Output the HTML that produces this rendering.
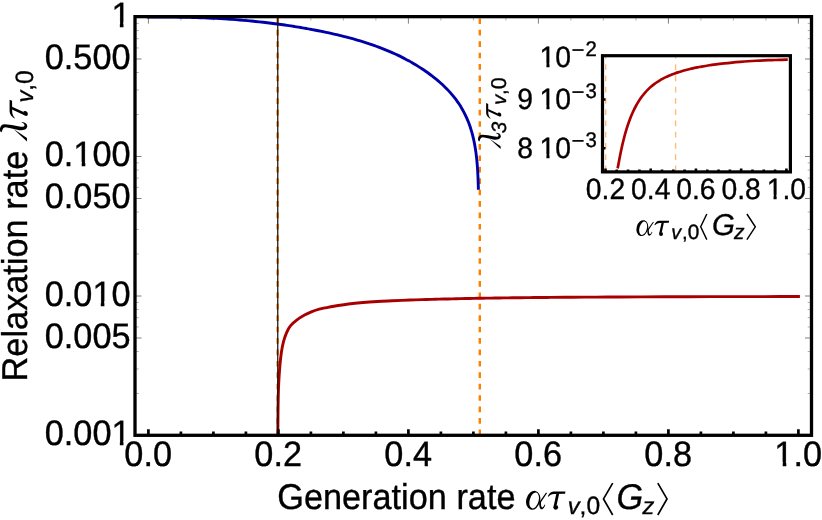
<!DOCTYPE html>
<html><head><meta charset="utf-8"><title>Relaxation rate plot</title>
<style>html,body{margin:0;padding:0;background:#fff;overflow:hidden}svg{display:block;will-change:transform;text-rendering:geometricPrecision}text{font-family:"Liberation Sans",sans-serif;fill:#000;stroke:#000;stroke-width:0.35px}.si{font-family:"Liberation Sans",sans-serif;font-style:italic}</style></head><body>
<svg width="822" height="520" viewBox="0 0 822 520">
<rect x="0" y="0" width="822" height="520" fill="#fff"/>
<path d="M135.00 17.00 h6.50 M811.50 17.00 h-6.50 M135.00 156.50 h6.50 M811.50 156.50 h-6.50 M135.00 58.99 h6.50 M811.50 58.99 h-6.50 M135.00 296.00 h6.50 M811.50 296.00 h-6.50 M135.00 198.49 h6.50 M811.50 198.49 h-6.50 M135.00 435.50 h6.50 M811.50 435.50 h-6.50 M135.00 337.99 h6.50 M811.50 337.99 h-6.50 M148.40 16.65 v7.00 M278.40 16.65 v7.00 M408.40 16.65 v7.00 M538.40 16.65 v7.00 M668.40 16.65 v7.00 M798.40 16.65 v7.00" fill="none" stroke="#555" stroke-width="0.75"/>
<path d="M135.00 114.51 h3.80 M811.50 114.51 h-3.80 M135.00 89.94 h3.80 M811.50 89.94 h-3.80 M135.00 72.51 h3.80 M811.50 72.51 h-3.80 M135.00 47.95 h3.80 M811.50 47.95 h-3.80 M135.00 38.61 h3.80 M811.50 38.61 h-3.80 M135.00 30.52 h3.80 M811.50 30.52 h-3.80 M135.00 23.38 h3.80 M811.50 23.38 h-3.80 M135.00 254.01 h3.80 M811.50 254.01 h-3.80 M135.00 229.44 h3.80 M811.50 229.44 h-3.80 M135.00 212.01 h3.80 M811.50 212.01 h-3.80 M135.00 187.45 h3.80 M811.50 187.45 h-3.80 M135.00 178.11 h3.80 M811.50 178.11 h-3.80 M135.00 170.02 h3.80 M811.50 170.02 h-3.80 M135.00 162.88 h3.80 M811.50 162.88 h-3.80 M135.00 393.51 h3.80 M811.50 393.51 h-3.80 M135.00 368.94 h3.80 M811.50 368.94 h-3.80 M135.00 351.51 h3.80 M811.50 351.51 h-3.80 M135.00 326.95 h3.80 M811.50 326.95 h-3.80 M135.00 317.61 h3.80 M811.50 317.61 h-3.80 M135.00 309.52 h3.80 M811.50 309.52 h-3.80 M135.00 302.38 h3.80 M811.50 302.38 h-3.80 M180.90 16.65 v3.90 M213.40 16.65 v3.90 M245.90 16.65 v3.90 M310.90 16.65 v3.90 M343.40 16.65 v3.90 M375.90 16.65 v3.90 M440.90 16.65 v3.90 M473.40 16.65 v3.90 M505.90 16.65 v3.90 M570.90 16.65 v3.90 M603.40 16.65 v3.90 M635.90 16.65 v3.90 M700.90 16.65 v3.90 M733.40 16.65 v3.90 M765.90 16.65 v3.90" fill="none" stroke="#888" stroke-width="0.65"/>
<line x1="277.6" y1="18.4" x2="277.6" y2="435.30" stroke="#ff8000" stroke-width="2.4" stroke-dasharray="5.7 5.717"/>
<line x1="479.8" y1="18.4" x2="479.8" y2="435.30" stroke="#ff8000" stroke-width="2.4" stroke-dasharray="5.7 5.717"/>
<path d="M148.40 17.00 C149.05 17.02 150.99 17.09 152.31 17.10 C153.63 17.11 154.99 17.08 156.33 17.07 C157.67 17.06 159.00 17.06 160.34 17.05 C161.68 17.05 163.02 17.05 164.35 17.05 C165.69 17.05 167.02 17.05 168.36 17.06 C169.69 17.07 171.02 17.07 172.36 17.09 C173.69 17.10 175.02 17.11 176.35 17.12 C177.68 17.14 179.01 17.16 180.34 17.18 C181.67 17.20 183.00 17.22 184.33 17.25 C185.66 17.27 186.99 17.30 188.31 17.33 C189.64 17.37 190.96 17.40 192.29 17.44 C193.62 17.47 194.94 17.51 196.26 17.55 C197.59 17.59 198.91 17.64 200.23 17.69 C201.56 17.73 202.88 17.78 204.20 17.84 C205.52 17.89 206.84 17.94 208.16 18.00 C209.48 18.06 210.80 18.12 212.12 18.19 C213.44 18.25 214.76 18.32 216.08 18.39 C217.40 18.46 218.72 18.53 220.03 18.61 C221.35 18.69 222.67 18.77 223.98 18.85 C225.30 18.93 226.62 19.02 227.93 19.10 C229.25 19.19 230.56 19.28 231.88 19.38 C233.19 19.47 234.50 19.57 235.82 19.67 C237.13 19.77 238.45 19.88 239.76 19.99 C241.07 20.09 242.38 20.21 243.70 20.32 C245.01 20.43 246.32 20.55 247.63 20.67 C248.94 20.79 250.26 20.92 251.57 21.05 C252.88 21.17 254.19 21.30 255.50 21.44 C256.81 21.57 258.12 21.71 259.43 21.85 C260.74 21.99 262.05 22.14 263.36 22.29 C264.67 22.44 265.98 22.59 267.29 22.74 C268.60 22.90 269.90 23.06 271.21 23.22 C272.52 23.38 273.83 23.55 275.14 23.72 C276.45 23.89 277.76 24.06 279.06 24.24 C280.37 24.42 281.68 24.60 282.99 24.79 C284.30 24.97 285.60 25.16 286.91 25.35 C288.22 25.55 289.53 25.74 290.83 25.94 C292.14 26.14 293.45 26.35 294.76 26.56 C296.06 26.76 297.37 26.98 298.68 27.19 C299.99 27.41 301.29 27.63 302.60 27.85 C303.91 28.08 305.22 28.30 306.53 28.54 C307.83 28.77 309.14 29.00 310.45 29.25 C311.76 29.49 313.06 29.73 314.37 29.98 C315.68 30.23 316.99 30.48 318.30 30.74 C319.60 30.99 320.91 31.26 322.22 31.52 C323.53 31.79 324.83 32.06 326.14 32.34 C327.45 32.61 328.75 32.89 330.06 33.18 C331.36 33.47 332.67 33.76 333.97 34.05 C335.27 34.35 336.57 34.65 337.88 34.96 C339.18 35.27 340.47 35.58 341.77 35.91 C343.07 36.23 344.36 36.55 345.66 36.89 C346.95 37.22 348.24 37.56 349.53 37.90 C350.82 38.25 352.11 38.60 353.40 38.96 C354.68 39.32 355.96 39.69 357.24 40.06 C358.52 40.44 359.80 40.82 361.08 41.21 C362.35 41.60 363.62 41.99 364.89 42.40 C366.16 42.80 367.42 43.21 368.69 43.63 C369.95 44.05 371.21 44.48 372.46 44.92 C373.72 45.36 374.97 45.80 376.21 46.26 C377.46 46.71 378.70 47.17 379.94 47.64 C381.18 48.12 382.42 48.60 383.65 49.09 C384.88 49.58 386.10 50.08 387.32 50.58 C388.54 51.09 389.76 51.61 390.97 52.14 C392.18 52.67 393.39 53.21 394.59 53.75 C395.79 54.30 396.99 54.86 398.18 55.43 C399.37 56.00 400.55 56.58 401.73 57.17 C402.91 57.76 404.09 58.36 405.25 58.97 C406.42 59.58 407.58 60.20 408.74 60.83 C409.89 61.47 411.04 62.11 412.19 62.77 C413.33 63.43 414.47 64.09 415.59 64.77 C416.72 65.45 417.85 66.14 418.96 66.85 C420.08 67.55 421.19 68.27 422.29 69.00 C423.39 69.73 424.48 70.47 425.57 71.22 C426.66 71.97 427.74 72.74 428.81 73.52 C429.88 74.30 430.94 75.09 431.99 75.89 C433.05 76.70 434.09 77.52 435.12 78.35 C436.15 79.18 437.18 80.03 438.18 80.89 C439.19 81.75 440.19 82.62 441.17 83.51 C442.15 84.39 443.12 85.29 444.08 86.21 C445.03 87.13 445.97 88.06 446.89 89.00 C447.81 89.94 448.71 90.90 449.60 91.88 C450.48 92.85 451.35 93.84 452.20 94.84 C453.05 95.85 453.88 96.87 454.69 97.90 C455.50 98.93 456.29 99.98 457.05 101.05 C457.82 102.12 458.56 103.20 459.28 104.29 C460.00 105.39 460.69 106.50 461.37 107.63 C462.04 108.76 462.69 109.90 463.31 111.06 C463.93 112.22 464.53 113.39 465.11 114.58 C465.69 115.76 466.24 116.96 466.77 118.17 C467.31 119.38 467.81 120.60 468.30 121.83 C468.79 123.07 469.25 124.31 469.69 125.56 C470.13 126.81 470.55 128.08 470.95 129.34 C471.35 130.61 471.72 131.89 472.07 133.18 C472.43 134.46 472.76 135.76 473.08 137.05 C473.39 138.35 473.68 139.66 473.96 140.97 C474.24 142.27 474.49 143.59 474.73 144.91 C474.97 146.22 475.20 147.55 475.40 148.87 C475.61 150.20 475.80 151.52 475.98 152.85 C476.16 154.18 476.32 155.51 476.48 156.84 C476.63 158.17 476.77 159.51 476.89 160.84 C477.02 162.17 477.14 163.50 477.24 164.83 C477.35 166.16 477.44 167.49 477.53 168.81 C477.62 170.14 477.70 171.46 477.77 172.78 C477.84 174.10 477.90 175.42 477.96 176.73 C478.02 178.04 478.07 179.34 478.12 180.64 C478.17 181.94 478.21 183.24 478.25 184.53 C478.30 185.81 478.35 187.73 478.37 188.37" fill="none" stroke="#0000a8" stroke-width="2.9" stroke-linecap="square" stroke-linejoin="round"/>
<path d="M277.80 435.00 C277.81 434.38 277.80 436.40 277.85 431.30 C277.90 426.20 277.96 412.37 278.10 404.40 C278.24 396.43 278.40 389.97 278.70 383.50 C279.00 377.03 279.45 370.82 279.90 365.60 C280.35 360.38 280.80 356.18 281.40 352.20 C282.00 348.22 282.65 344.93 283.50 341.70 C284.35 338.47 285.35 335.43 286.50 332.80 C287.65 330.17 288.60 328.08 290.40 325.90 C292.20 323.72 294.93 321.50 297.30 319.70 C299.67 317.90 302.17 316.43 304.60 315.10 C307.03 313.77 309.47 312.68 311.90 311.70 C314.33 310.72 316.77 309.88 319.20 309.20 C321.63 308.52 324.07 308.10 326.50 307.60 C328.93 307.10 330.15 306.80 333.80 306.20 C337.45 305.60 343.53 304.62 348.40 304.00 C353.27 303.38 358.13 302.92 363.00 302.50 C367.87 302.08 372.73 301.78 377.60 301.50 C382.47 301.22 386.80 301.05 392.20 300.80 C397.60 300.55 404.34 300.21 410.00 300.00 C415.66 299.79 422.03 299.68 426.17 299.57 C430.30 299.45 431.92 299.38 434.79 299.29 C437.67 299.21 440.54 299.13 443.42 299.05 C446.29 298.98 449.17 298.91 452.04 298.84 C454.91 298.77 457.79 298.71 460.66 298.64 C463.54 298.58 466.41 298.53 469.29 298.47 C472.16 298.41 475.04 298.36 477.91 298.31 C480.79 298.26 483.66 298.21 486.54 298.17 C489.41 298.12 492.29 298.08 495.16 298.04 C498.04 297.99 500.91 297.95 503.79 297.92 C506.66 297.88 509.54 297.84 512.41 297.81 C515.29 297.77 518.16 297.74 521.04 297.70 C523.91 297.67 526.79 297.64 529.66 297.61 C532.54 297.58 535.41 297.55 538.29 297.52 C541.16 297.50 544.95 297.46 546.91 297.44 C548.87 297.43 545.71 297.45 550.07 297.42 C554.43 297.38 565.40 297.29 573.07 297.23 C580.74 297.18 588.40 297.13 596.07 297.08 C603.74 297.04 611.40 296.99 619.07 296.96 C626.73 296.92 634.40 296.88 642.07 296.85 C649.73 296.82 657.40 296.79 665.07 296.77 C672.73 296.74 680.40 296.72 688.06 296.70 C695.73 296.68 703.40 296.66 711.06 296.65 C718.73 296.63 726.39 296.62 734.06 296.61 C741.73 296.60 749.39 296.59 757.06 296.58 C764.73 296.58 773.16 296.57 780.06 296.57 C786.96 296.56 795.39 296.56 798.46 296.56" fill="none" stroke="#a80000" stroke-width="2.9" stroke-linecap="square" stroke-linejoin="round"/>
<line x1="277.75" y1="16.65" x2="277.75" y2="435.30" stroke="#151515" stroke-width="1.25"/>
<path d="M148.40 435.30 v-6.10 M180.90 435.30 v-3.70 M213.40 435.30 v-3.70 M245.90 435.30 v-3.70 M278.40 435.30 v-6.10 M310.90 435.30 v-3.70 M343.40 435.30 v-3.70 M375.90 435.30 v-3.70 M408.40 435.30 v-6.10 M440.90 435.30 v-3.70 M473.40 435.30 v-3.70 M505.90 435.30 v-3.70 M538.40 435.30 v-6.10 M570.90 435.30 v-3.70 M603.40 435.30 v-3.70 M635.90 435.30 v-3.70 M668.40 435.30 v-6.10 M700.90 435.30 v-3.70 M733.40 435.30 v-3.70 M765.90 435.30 v-3.70 M798.40 435.30 v-6.10" fill="none" stroke="#000" stroke-width="2.7"/>
<rect x="135.00" y="16.65" width="676.50" height="418.65" fill="none" stroke="#000" stroke-width="3.30"/>
<text transform="translate(130.60,26.70) scale(1,1.030)" font-size="34.30" text-anchor="end">1</text>
<rect x="112.19" y="22.36" width="7.66" height="5.94" fill="#fff"/>
<rect x="123.48" y="22.36" width="6.80" height="5.94" fill="#fff"/>
<text transform="translate(130.60,68.69) scale(1,1.030)" font-size="34.30" text-anchor="end">0.500</text>
<text transform="translate(130.60,166.20) scale(1,1.030)" font-size="34.30" text-anchor="end">0.100</text>
<rect x="74.04" y="161.86" width="7.66" height="5.94" fill="#fff"/>
<rect x="85.33" y="161.86" width="6.80" height="5.94" fill="#fff"/>
<text transform="translate(130.60,208.19) scale(1,1.030)" font-size="34.30" text-anchor="end">0.050</text>
<text transform="translate(130.60,305.70) scale(1,1.030)" font-size="34.30" text-anchor="end">0.010</text>
<rect x="93.12" y="301.36" width="7.66" height="5.94" fill="#fff"/>
<rect x="104.40" y="301.36" width="6.80" height="5.94" fill="#fff"/>
<text transform="translate(130.60,347.69) scale(1,1.030)" font-size="34.30" text-anchor="end">0.005</text>
<text transform="translate(130.60,445.20) scale(1,1.030)" font-size="34.30" text-anchor="end">0.001</text>
<rect x="112.19" y="440.86" width="7.66" height="5.94" fill="#fff"/>
<rect x="123.48" y="440.86" width="6.80" height="5.94" fill="#fff"/>
<text transform="translate(148.20,466.30) scale(1,1.030)" font-size="34.30" text-anchor="middle">0.0</text>
<text transform="translate(278.20,466.30) scale(1,1.030)" font-size="34.30" text-anchor="middle">0.2</text>
<text transform="translate(408.20,466.30) scale(1,1.030)" font-size="34.30" text-anchor="middle">0.4</text>
<text transform="translate(538.20,466.30) scale(1,1.030)" font-size="34.30" text-anchor="middle">0.6</text>
<text transform="translate(668.20,466.30) scale(1,1.030)" font-size="34.30" text-anchor="middle">0.8</text>
<text transform="translate(798.20,466.30) scale(1,1.030)" font-size="34.30" text-anchor="middle">1.0</text>
<rect x="775.03" y="461.96" width="7.66" height="5.94" fill="#fff"/>
<rect x="786.32" y="461.96" width="6.80" height="5.94" fill="#fff"/>
<text transform="translate(277.20,509.10) scale(1,1.045)" font-size="34.30">Generation rate</text>
<g transform="translate(522,509)"><g transform="scale(0.05385) translate(0,-427)"><path d="M84.4 231.9 A128 175 15 1 0 331.6 298.1 A128 175 15 1 0 84.4 231.9ZM146.8 246.8 A82 150 15 1 1 305.2 289.2 A82 150 15 1 1 146.8 246.8Z"/><path d="M447 120 L464 134 L352 300 L322 296Z"/><path d="M318 285 C316 360 325 433 362 433 C395 433 418 392 433 352 L420 345 C405 376 390 398 376 398 C356 398 350 340 354 285Z"/></g></g>
<g transform="translate(542,509)"><g transform="scale(0.05385) translate(0,-427)"><path d="M108 190 C130 140 160 103 215 100 L436 100 L428 146 L225 148 C175 150 145 170 120 198Z"/><path d="M266 146 L318 146 L274 350 L214 385Z"/><path d="M211 395 A44 44 0 1 0 299 395 A44 44 0 1 0 211 395Z"/></g></g>
<text x="567.80" y="514.30" font-size="23.80" class="si">v</text>
<text x="579.60" y="514.30" font-size="24.60">,</text>
<text transform="translate(586.40,514.30) scale(1,1.020)" font-size="24.60">0</text>
<path d="M612.7 483.1 L603.5 498.9 L612.7 515" fill="none" stroke="#000" stroke-width="1.7"/>
<text transform="translate(616.40,509.10) scale(1,1.040)" font-size="34.30" class="si">G</text>
<text x="642.40" y="514.30" font-size="23.80" class="si">z</text>
<path d="M657.8 483.1 L667 498.9 L657.8 515" fill="none" stroke="#000" stroke-width="1.7"/>
<g transform="translate(27.2,381.40) rotate(-90)">
<text transform="translate(0.00,0.00) scale(1,1.045)" font-size="34.30">Relaxation rate</text>
<g transform="translate(239.40,0)"><g><path d="M9.69 -25.85 C10.50 -28.20 17.90 -28.00 17.77 -22.38 L17.00 -15.46 L15.46 -7.77 C15.20 -5.50 15.20 -4.20 15.60 -3.30 C16.30 -2.00 18.60 -2.60 19.40 -5.60 L20.10 -5.40 C19.90 -1.20 17.50 0.30 15.30 -0.00 C12.60 -0.40 11.70 -3.50 11.85 -7.77 L13.54 -15.46 L14.69 -21.60 C14.60 -24.60 11.50 -24.80 10.40 -25.30Z"/><path d="M14.90 -16.60 L13.50 -14.20 L0.46 -0.23 L3.90 -0.23Z"/></g></g>
<g transform="translate(253.80,0)"><g transform="matrix(1 0 -0.250 1 0 0) scale(0.05385) translate(0,-427)"><path d="M108 190 C130 140 160 103 215 100 L436 100 L428 146 L225 148 C175 150 145 170 120 198Z"/><path d="M266 146 L318 146 L274 350 L214 385Z"/><path d="M211 395 A44 44 0 1 0 299 395 A44 44 0 1 0 211 395Z"/></g></g>
<text x="278.80" y="5.80" font-size="23.80" class="si">v</text>
<text x="290.60" y="5.80" font-size="24.60">,</text>
<text transform="translate(297.40,5.80) scale(1,1.020)" font-size="24.60">0</text>
</g>
<line x1="605.70" y1="55.70" x2="605.70" y2="171.90" stroke="#ffbb7a" stroke-width="1.35" stroke-dasharray="5.6 5.65" stroke-dashoffset="2.6"/>
<line x1="675.59" y1="55.70" x2="675.59" y2="171.90" stroke="#ffbb7a" stroke-width="1.35" stroke-dasharray="5.6 5.65" stroke-dashoffset="2.6"/>
<path d="M617.90 167.05 C618.40 164.45 619.90 156.20 620.90 151.44 C621.90 146.67 622.90 142.39 623.90 138.46 C624.90 134.54 625.90 131.11 626.90 127.90 C627.90 124.70 628.90 121.88 629.90 119.23 C630.90 116.59 631.90 114.24 632.90 112.03 C633.90 109.83 634.90 107.85 635.90 105.99 C636.90 104.14 637.90 102.46 638.90 100.88 C639.90 99.31 640.90 97.88 641.90 96.53 C642.90 95.18 643.90 93.96 644.90 92.80 C645.90 91.64 646.90 90.59 647.90 89.59 C648.90 88.60 649.90 87.68 650.90 86.82 C651.90 85.95 652.90 85.15 653.90 84.39 C654.90 83.63 655.90 82.92 656.90 82.25 C657.90 81.58 658.90 80.95 659.90 80.35 C660.90 79.76 661.90 79.20 662.90 78.66 C663.90 78.12 664.90 77.62 665.90 77.14 C666.90 76.66 667.90 76.20 668.90 75.77 C669.90 75.33 670.90 74.92 671.90 74.52 C672.90 74.13 673.90 73.76 674.90 73.40 C675.90 73.03 676.90 72.69 677.90 72.36 C678.90 72.03 679.90 71.72 680.90 71.42 C681.90 71.12 682.90 70.83 683.90 70.55 C684.90 70.27 685.90 70.01 686.90 69.75 C687.90 69.49 688.90 69.25 689.90 69.01 C690.90 68.77 691.90 68.54 692.90 68.32 C693.90 68.10 694.90 67.89 695.90 67.69 C696.90 67.48 698.22 67.22 698.90 67.09 C699.58 66.96 698.48 67.14 700.00 66.88 C701.52 66.62 705.33 65.93 708.00 65.51 C710.67 65.08 713.33 64.70 716.00 64.35 C718.67 63.99 721.33 63.67 724.00 63.36 C726.67 63.06 729.33 62.79 732.00 62.54 C734.67 62.28 737.33 62.05 740.00 61.84 C742.67 61.62 745.33 61.43 748.00 61.25 C750.67 61.08 753.33 60.92 756.00 60.77 C758.67 60.63 761.33 60.50 764.00 60.38 C766.67 60.26 769.33 60.16 772.00 60.07 C774.67 59.97 777.60 59.89 780.00 59.82 C782.40 59.76 785.33 59.70 786.40 59.68" fill="none" stroke="#a80000" stroke-width="2.7" stroke-linecap="square" stroke-linejoin="round"/>
<path d="M605.50 171.90 v-3.30 M616.80 171.90 v-2.40 M628.11 171.90 v-2.40 M639.41 171.90 v-2.40 M650.72 171.90 v-3.30 M662.02 171.90 v-2.40 M673.33 171.90 v-2.40 M684.63 171.90 v-2.40 M695.94 171.90 v-3.30 M707.25 171.90 v-2.40 M718.55 171.90 v-2.40 M729.86 171.90 v-2.40 M741.16 171.90 v-3.30 M752.47 171.90 v-2.40 M763.77 171.90 v-2.40 M775.08 171.90 v-2.40 M786.38 171.90 v-3.30 M602.50 99.50 h3.00 M602.50 148.30 h3.00" fill="none" stroke="#000" stroke-width="2.6"/>
<rect x="602.50" y="55.70" width="187.90" height="116.20" fill="none" stroke="#000" stroke-width="3.2"/>
<text transform="translate(539.60,67.28) scale(1,1.040)" font-size="28.30">10</text>
<rect x="540.15" y="63.38" width="6.26" height="5.50" fill="#fff"/>
<rect x="549.52" y="63.38" width="5.56" height="5.50" fill="#fff"/>
<rect x="572.4" y="49.18" width="11.2" height="1.7" fill="#000"/>
<text transform="translate(585.40,56.08) scale(1,1.040)" font-size="20.40">2</text>
<text transform="translate(517.30,109.33) scale(1,1.040)" font-size="28.30">9</text>
<text transform="translate(539.60,109.33) scale(1,1.040)" font-size="28.30">10</text>
<rect x="540.15" y="105.44" width="6.26" height="5.50" fill="#fff"/>
<rect x="549.52" y="105.44" width="5.56" height="5.50" fill="#fff"/>
<rect x="572.4" y="91.23" width="11.2" height="1.7" fill="#000"/>
<text transform="translate(585.40,98.13) scale(1,1.040)" font-size="20.40">3</text>
<text transform="translate(517.30,158.13) scale(1,1.040)" font-size="28.30">8</text>
<text transform="translate(539.60,158.13) scale(1,1.040)" font-size="28.30">10</text>
<rect x="540.15" y="154.23" width="6.26" height="5.50" fill="#fff"/>
<rect x="549.52" y="154.23" width="5.56" height="5.50" fill="#fff"/>
<rect x="572.4" y="140.03" width="11.2" height="1.7" fill="#000"/>
<text transform="translate(585.40,146.93) scale(1,1.040)" font-size="20.40">3</text>
<text transform="translate(605.50,198.60) scale(1,1.040)" font-size="28.30" text-anchor="middle">0.2</text>
<text transform="translate(650.72,198.60) scale(1,1.040)" font-size="28.30" text-anchor="middle">0.4</text>
<text transform="translate(695.94,198.60) scale(1,1.040)" font-size="28.30" text-anchor="middle">0.6</text>
<text transform="translate(741.16,198.60) scale(1,1.040)" font-size="28.30" text-anchor="middle">0.8</text>
<text transform="translate(786.38,198.60) scale(1,1.040)" font-size="28.30" text-anchor="middle">1.0</text>
<rect x="767.26" y="194.70" width="6.26" height="5.50" fill="#fff"/>
<rect x="776.63" y="194.70" width="5.56" height="5.50" fill="#fff"/>
<g transform="translate(633,235.40) scale(0.833)"><g transform="scale(0.05385) translate(0,-427)"><path d="M84.4 231.9 A128 175 15 1 0 331.6 298.1 A128 175 15 1 0 84.4 231.9ZM146.8 246.8 A82 150 15 1 1 305.2 289.2 A82 150 15 1 1 146.8 246.8Z"/><path d="M447 120 L464 134 L352 300 L322 296Z"/><path d="M318 285 C316 360 325 433 362 433 C395 433 418 392 433 352 L420 345 C405 376 390 398 376 398 C356 398 350 340 354 285Z"/></g></g>
<g transform="translate(649.6,235.40) scale(0.833)"><g transform="scale(0.05385) translate(0,-427)"><path d="M108 190 C130 140 160 103 215 100 L436 100 L428 146 L225 148 C175 150 145 170 120 198Z"/><path d="M266 146 L318 146 L274 350 L214 385Z"/><path d="M211 395 A44 44 0 1 0 299 395 A44 44 0 1 0 211 395Z"/></g></g>
<text x="671.20" y="239.20" font-size="19.80" class="si">v</text>
<text x="682.10" y="239.20" font-size="20.40">,</text>
<text x="687.70" y="239.20" font-size="20.80">0</text>
<path d="M706.8 214.0 L700.7 226.8 L706.8 239.6" fill="none" stroke="#000" stroke-width="1.45"/>
<text transform="translate(711.90,235.40) scale(1,1.020)" font-size="29.43" class="si">G</text>
<text x="733.90" y="239.20" font-size="21.00" class="si">z</text>
<path d="M746.9 214.0 L755.3 226.8 L746.9 239.6" fill="none" stroke="#000" stroke-width="1.45"/>
<g transform="translate(500.8,149.5) rotate(-90)">
<g transform="scale(0.833)"><g><path d="M9.69 -25.85 C10.50 -28.20 17.90 -28.00 17.77 -22.38 L17.00 -15.46 L15.46 -7.77 C15.20 -5.50 15.20 -4.20 15.60 -3.30 C16.30 -2.00 18.60 -2.60 19.40 -5.60 L20.10 -5.40 C19.90 -1.20 17.50 0.30 15.30 -0.00 C12.60 -0.40 11.70 -3.50 11.85 -7.77 L13.54 -15.46 L14.69 -21.60 C14.60 -24.60 11.50 -24.80 10.40 -25.30Z"/><path d="M14.90 -16.60 L13.50 -14.20 L0.46 -0.23 L3.90 -0.23Z"/></g></g>
<text x="16.20" y="4.90" font-size="20.60" class="si">3</text>
<g transform="translate(23.2,0) scale(0.833)"><g transform="matrix(1 0 -0.250 1 0 0) scale(0.05385) translate(0,-427)"><path d="M108 190 C130 140 160 103 215 100 L436 100 L428 146 L225 148 C175 150 145 170 120 198Z"/><path d="M266 146 L318 146 L274 350 L214 385Z"/><path d="M211 395 A44 44 0 1 0 299 395 A44 44 0 1 0 211 395Z"/></g></g>
<text x="44.80" y="5.60" font-size="19.80" class="si">v</text>
<text x="54.60" y="5.60" font-size="20.40">,</text>
<text x="60.20" y="5.60" font-size="21.40">0</text>
</g>
</svg></body></html>
